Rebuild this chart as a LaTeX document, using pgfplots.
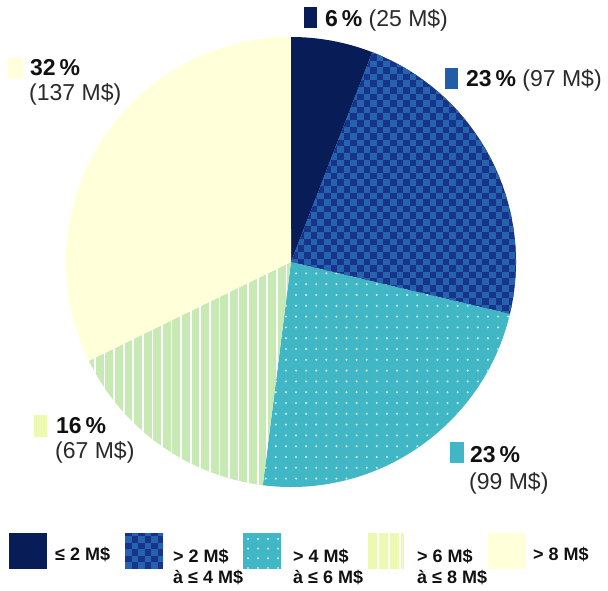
\documentclass[border=0pt]{standalone}
\usepackage{fontspec}
\setmainfont{Liberation Sans}
\usepackage{pgfplots}
\usepackage{pgfplotstable}
\pgfplotsset{compat=1.18}

\definecolor{cA}{HTML}{081D58}
\definecolor{cBd}{HTML}{17348A}
\definecolor{cBl}{HTML}{2563AE}
\definecolor{cBm}{HTML}{225EA8}
\definecolor{cC}{HTML}{41B6C4}
\definecolor{cCdot}{HTML}{CDEDF1}
\definecolor{cD}{HTML}{C7E9B4}
\definecolor{cDleg}{HTML}{EDF8B1}
\definecolor{cE}{HTML}{FFFFD9}
\definecolor{txt}{HTML}{111111}
\definecolor{txtl}{HTML}{2A2A2A}

\pgfplotstableread{
label value
a 25
b 97
c 99
d 67
e 137
}\piedata

\newcommand\wedgepath[2]{(axis cs:291,328) -- ++(#1:225pt) arc[start angle=#1,end angle=#2,radius=225pt] -- cycle}
\newcommand\piewedge[3]{\fill[#3] (axis cs:291,328) -- ++(#1:225pt) arc[start angle=#1,end angle=#2,radius=225pt] -- cycle;}
\newcommand\bigf{\fontsize{23}{27}\selectfont}
\newcommand\legf{\fontsize{18}{21}\selectfont\bfseries}

% checker squares: origin, nx, ny
\newcommand\checkergrid[3]{%
  \begin{scope}[shift={#1}]
  \foreach \i in {0,...,#2}{\foreach \j in {0,...,#3}{%
    \pgfmathtruncatemacro\pq{mod(\i+\j,2)}%
    \ifnum\pq=0 \fill[cBl] ({\i*6.6pt},{\j*6.6pt}) rectangle ({\i*6.6pt+6.6pt},{\j*6.6pt+6.6pt});\fi
  }}
  \end{scope}}
% dots: origin, dx, dy, nx, ny
\newcommand\dotgrid[5]{%
  \begin{scope}[shift={#1}]
  \foreach \i in {0,...,#4}{\foreach \j in {0,...,#5}{%
    \fill[cCdot] ({\i*#2},{\j*#3}) circle[radius=1.15pt];
  }}
  \end{scope}}

\begin{document}
\begin{tikzpicture}
\pgfplotstablegetelem{0}{value}\of\piedata\edef\vA{\pgfplotsretval}
\pgfplotstablegetelem{1}{value}\of\piedata\edef\vB{\pgfplotsretval}
\pgfplotstablegetelem{2}{value}\of\piedata\edef\vC{\pgfplotsretval}
\pgfplotstablegetelem{3}{value}\of\piedata\edef\vD{\pgfplotsretval}
\pgfplotstablegetelem{4}{value}\of\piedata\edef\vE{\pgfplotsretval}
\pgfmathsetmacro\tot{\vA+\vB+\vC+\vD+\vE}
\pgfmathsetmacro\k{360/\tot}
\pgfmathsetmacro\aA{90}
\pgfmathsetmacro\aB{\aA-\k*\vA}
\pgfmathsetmacro\aC{\aB-\k*\vB}
\pgfmathsetmacro\aD{\aC-\k*\vC}
\pgfmathsetmacro\aE{\aD-\k*\vD}
\pgfmathsetmacro\aF{\aE-\k*\vE}
\begin{axis}[x=1pt,y=1pt,xmin=0,xmax=608,ymin=0,ymax=590,hide axis,clip=false]
\path (axis cs:0,0) rectangle (axis cs:608,590);
% pie
\piewedge{\aA}{\aB}{cA}
\piewedge{\aB}{\aC}{cBd}
\piewedge{\aC}{\aD}{cC}
\piewedge{\aD}{\aE}{cD}
\piewedge{\aE}{\aF}{cE}
% legend boxes
\fill[cA] (axis cs:9,21) rectangle (axis cs:47,57);
\fill[cBd] (axis cs:125,21) rectangle (axis cs:163,57);
\fill[cC] (axis cs:243,21) rectangle (axis cs:281,57);
\fill[cDleg] (axis cs:366,21) rectangle (axis cs:404,57);
\fill[cE] (axis cs:488,21) rectangle (axis cs:526,57);
\pgfplotsextra{%
  \begin{scope}
  \clip \wedgepath{\aB}{\aC};
  \checkergrid{(axis cs:291,272)}{35}{41}
  \end{scope}
  \begin{scope}
  \clip \wedgepath{\aC}{\aD};
  \dotgrid{(axis cs:265.7,100.6)}{10.1pt}{10.8pt}{25}{21}
  \end{scope}
  \begin{scope}
  \clip \wedgepath{\aD}{\aE};
  \begin{scope}[shift={(axis cs:95,95)}]
  \foreach \i in {0,...,21}{\fill[white] ({\i*9.57pt-0.85pt},0pt) rectangle ({\i*9.57pt+0.85pt},245pt);}
  \end{scope}
  \end{scope}
  % legend patterns
  \begin{scope}
  \clip (axis cs:125,21) rectangle (axis cs:163,57);
  \checkergrid{(axis cs:125,21)}{6}{6}
  \end{scope}
  \begin{scope}
  \clip (axis cs:243,21) rectangle (axis cs:281,57);
  \dotgrid{(axis cs:248,22)}{10pt}{9.7pt}{3}{3}
  \end{scope}
  \begin{scope}
  \clip (axis cs:366,21) rectangle (axis cs:404,57);
  \begin{scope}[shift={(axis cs:367,21)}]
  \foreach \i in {0,...,3}{\fill[white] ({\i*11pt-0.85pt},0pt) rectangle ({\i*11pt+0.85pt},36pt);}
  \end{scope}
  \end{scope}
}
% labels
\fill[cA] (axis cs:304,562) rectangle (axis cs:317,583);
\node[anchor=base west,inner sep=0pt,font=\bigf] at (axis cs:325,563) {\textcolor{txt}{\bfseries 6\,\%} \textcolor{txtl}{(25 M\$)}};
\fill[cBm] (axis cs:445,501) rectangle (axis cs:458,522);
\node[anchor=base west,inner sep=0pt,font=\bigf] at (axis cs:466,503) {\textcolor{txt}{\bfseries 23\,\%} \textcolor{txtl}{(97 M\$)}};
\fill[cC] (axis cs:450,127) rectangle (axis cs:464,148);
\node[anchor=base west,inner sep=0pt,font=\bigf\bfseries,text=txt] at (axis cs:470,128) {23\,\%};
\node[anchor=base west,inner sep=0pt,font=\bigf,text=txtl] at (axis cs:469,101) {(99 M\$)};
\fill[cDleg] (axis cs:34,153) rectangle (axis cs:47,175);
\node[anchor=base west,inner sep=0pt,font=\bigf\bfseries,text=txt] at (axis cs:56,157) {16\,\%};
\node[anchor=base west,inner sep=0pt,font=\bigf,text=txtl] at (axis cs:55,132) {(67 M\$)};
\fill[cE] (axis cs:8,512) rectangle (axis cs:23,532);
\node[anchor=base west,inner sep=0pt,font=\bigf\bfseries,text=txt] at (axis cs:30,514) {32\,\%};
\node[anchor=base west,inner sep=0pt,font=\bigf,text=txtl] at (axis cs:29,489) {(137 M\$)};
% legend text
\node[anchor=base west,inner sep=0pt,font=\legf,text=txt] at (axis cs:55,30) {≤ 2 M\$};
\node[anchor=base west,inner sep=0pt,font=\legf,text=txt] at (axis cs:173,28) {> 2 M\$};
\node[anchor=base west,inner sep=0pt,font=\legf,text=txt] at (axis cs:173,7) {à ≤ 4 M\$};
\node[anchor=base west,inner sep=0pt,font=\legf,text=txt] at (axis cs:293,28) {> 4 M\$};
\node[anchor=base west,inner sep=0pt,font=\legf,text=txt] at (axis cs:293,7) {à ≤ 6 M\$};
\node[anchor=base west,inner sep=0pt,font=\legf,text=txt] at (axis cs:417,28) {> 6 M\$};
\node[anchor=base west,inner sep=0pt,font=\legf,text=txt] at (axis cs:417,7) {à ≤ 8 M\$};
\node[anchor=base west,inner sep=0pt,font=\legf,text=txt] at (axis cs:533,30) {> 8 M\$};
\end{axis}
\end{tikzpicture}
\end{document}
